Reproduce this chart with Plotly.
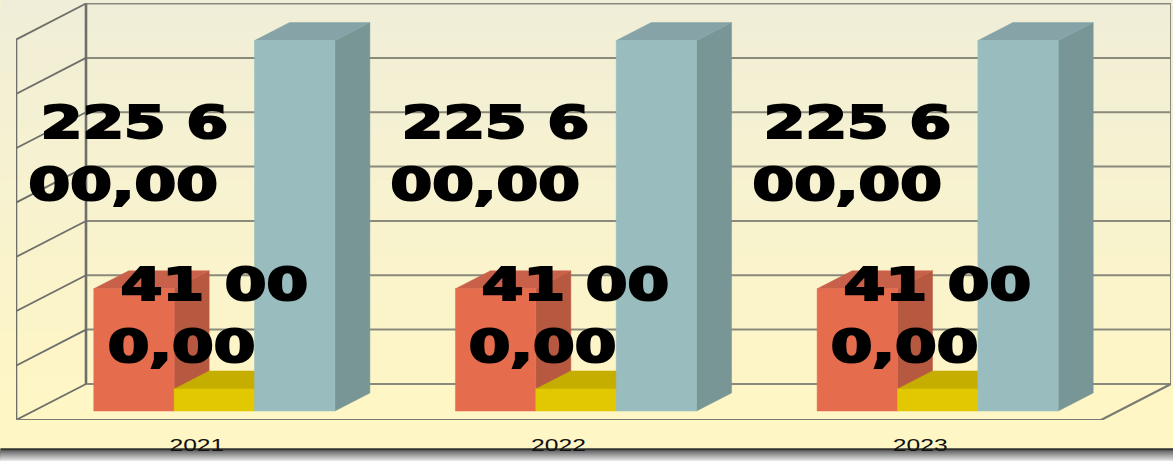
import plotly.graph_objects as go

categories = ["2021", "2022", "2023"]
series_orange = [74400, 74400, 74400]
series_yellow = [13400, 13400, 13400]
series_blue = [225600, 225600, 225600]
label_high = ["225 6", "00,00"]
label_low = ["41 00", "0,00"]

W, H = 1173, 461
GRID_STEP = 33100
N_GRID = 7
ML, MR, MT, MB = 15.6, 2.4, 3.1, 41.3
PX_X = 361.67
PX_Y = 54.29 / GRID_STEP  # pixels per value unit
XMIN = -0.5
XMAX = XMIN + (W - ML - MR) / PX_X
YMAX = (H - MT - MB) / PX_Y
DX = 70 / PX_X
DY = 36 / PX_Y
FRONT_X_END = 2.5
TOP_VAL = N_GRID * GRID_STEP
BAR_W = 1 / 4.5
WALL = "#6e6e6a"
GRID = "#8a8a7c"

fig = go.Figure()


def poly(xs, ys, color):
    fig.add_trace(go.Scatter(x=xs, y=ys, mode="lines", fill="toself", fillcolor=color,
                             line=dict(color=color, width=0.5), hoverinfo="skip",
                             showlegend=False, cliponaxis=False))


def lines(xs, ys, color, width):
    fig.add_trace(go.Scatter(x=xs, y=ys, mode="lines", line=dict(color=color, width=width),
                             hoverinfo="skip", showlegend=False, cliponaxis=False))


# back wall grid and left wall grid
gx, gy, lx, ly = [], [], [], []
for k in range(N_GRID + 1):
    v = k * GRID_STEP
    gx += [XMIN + DX, FRONT_X_END + DX, None]
    gy += [v + DY, v + DY, None]
    lx += [XMIN, XMIN + DX, None]
    ly += [v, v + DY, None]
lines(gx, gy, GRID, 2)
lines(lx, ly, WALL, 1.8)
# frame of walls and floor
lines([XMIN, XMIN], [0, TOP_VAL], WALL, 2.6)
lines([XMIN + DX, XMIN + DX], [DY, TOP_VAL + DY], WALL, 2.6)
lines([FRONT_X_END + DX, FRONT_X_END + DX], [DY, TOP_VAL + DY], GRID, 2)
lines([XMIN, FRONT_X_END, FRONT_X_END + DX], [0, 0, DY], "#7a7a72", 2.2)


def bars(values, slot, front, side, top):
    sx, sy, tx, ty, fx, fy = [], [], [], [], [], []
    for i, v in enumerate(values):
        x0 = i + (slot - 1.5) * BAR_W + 0.25 * DX
        x1 = x0 + BAR_W
        b = 0.25 * DY
        sx += [x1, x1 + DX / 2, x1 + DX / 2, x1, x1, None]
        sy += [b, b + DY / 2, b + v + DY / 2, b + v, b, None]
        tx += [x0, x1, x1 + DX / 2, x0 + DX / 2, x0, None]
        ty += [b + v, b + v, b + v + DY / 2, b + v + DY / 2, b + v, None]
        fx += [x0, x1, x1, x0, x0, None]
        fy += [b, b, b + v, b + v, b, None]
    poly(sx, sy, side)
    poly(tx, ty, top)
    poly(fx, fy, front)


bars(series_orange, 0, "#E66C4E", "#B75840", "#C9604A")
bars(series_yellow, 1, "#E2C800", "#B8A200", "#C6AE00")
bars(series_blue, 2, "#99BDBF", "#799697", "#86A4A7")

shapes = []
PH = H - MT - MB
X0P, X1P = -ML / (W - ML - MR), (W - ML) / (W - ML - MR)


def band(y_top, color):
    """Rectangle from pixel row y_top to the bottom of the page; later bands overlay earlier ones."""
    shapes.append(dict(type="rect", xref="paper", yref="paper", layer="below", line_width=0,
                       x0=X0P, x1=X1P, y0=(H - MB - H) / PH, y1=(H - MB - y_top) / PH,
                       fillcolor=color))


# background gradient strips
c0, c1 = (240, 238, 216), (255, 246, 197)
for y in range(0, 448, 6):
    t = min(1, y / 400)
    band(y, "rgb(%d,%d,%d)" % tuple(round(a + (b - a) * t) for a, b in zip(c0, c1)))
# lower shadow band
band(448, "rgb(50,50,48)")
for y in range(450, 461):
    g = round(105 + 125 * (y - 450) / 10)
    band(y, "rgb(%d,%d,%d)" % (g, g, g))

annotations = []


def value_of_py(py):
    return (H - MB - py) / PX_Y


def x_of_px(px):
    return XMIN + (px - ML) / PX_X


for i in range(len(categories)):
    for text, cx, cy in [(label_high[0], 134, 122), (label_high[1], 123, 184),
                         (label_low[0], 214, 284), (label_low[1], 181, 346)]:
        annotations.append(dict(x=i + x_of_px(cx) - x_of_px(196.6), y=value_of_py(cy), text=text,
                                showarrow=False, xanchor="center", yanchor="middle",
                                font=dict(family="DejaVu Sans", size=45, color="black", weight=700)))

fig.update_layout(
    width=W, height=H, margin=dict(l=ML, r=MR, t=MT, b=MB),
    paper_bgcolor="#FFF6C5", plot_bgcolor="rgba(0,0,0,0)",
    showlegend=False, shapes=shapes, annotations=annotations,
    xaxis=dict(range=[XMIN, XMAX], tickmode="array", tickvals=list(range(len(categories))),
               ticktext=categories, showgrid=False, zeroline=False, showline=False, ticks="",
               ticklabelstandoff=13,
               tickfont=dict(family="Liberation Sans", size=17, color="#111111")),
    yaxis=dict(range=[0, YMAX], showticklabels=False, showgrid=False, zeroline=False,
               showline=False, ticks=""),
)

stretch = """
document.documentElement.style.margin = '0';
document.body.style.margin = '0';
document.body.style.overflow = 'hidden';
function st(el, s){
  var cx = parseFloat(el.getAttribute('x')) || 0;
  var old = el.getAttribute('transform') || '';
  el.setAttribute('transform', old + ' translate(' + cx + ',0) scale(' + s + ',1) translate(' + (-cx) + ',0)');
}
document.querySelectorAll('.annotation-text').forEach(function(e){
  st(e, 1.33);
  e.style.stroke = 'black';
  e.style.strokeWidth = '2.2px';
});
document.querySelectorAll('.xtick text').forEach(function(e){ st(e, 1.45); });
"""
fig.write_html("out.html", post_script=stretch, config={"displayModeBar": False})
